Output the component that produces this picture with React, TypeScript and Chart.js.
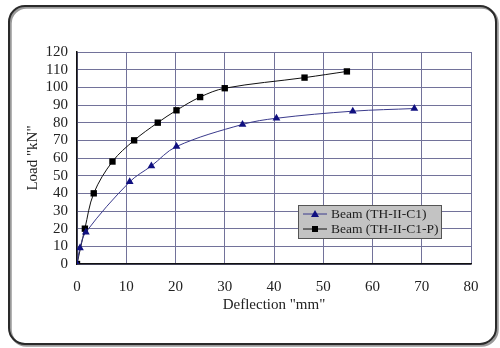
import React, { useEffect, useRef } from 'react';
import { Chart, registerables } from 'chart.js';

Chart.register(...registerables);

const seriesLabels = ['Beam (TH-II-C1)', 'Beam (TH-II-C1-P)'];
const c1Deflection = [0, 0.6, 1.8, 10.7, 15.1, 20.2, 33.6, 40.5, 56, 68.5];
const c1Load = [0, 9, 18, 46.5, 55.5, 66.5, 79, 82.5, 86.5, 88];
const pDeflection = [0, 1.6, 3.4, 7.2, 11.6, 16.4, 20.2, 25, 30, 46.2, 54.8];
const pLoad = [0, 20, 40, 58, 70, 80, 87, 94.5, 99.5, 105.5, 109];
const xTitle = 'Deflection "mm"';
const yTitle = 'Load "kN"';

const FONT = '"Liberation Serif", "Times New Roman", serif';

const toPoints = (xs: number[], ys: number[]) => xs.map((x, i) => ({ x, y: ys[i] }));

const framePlugin = {
  id: 'frame',
  beforeDraw(chart: any) {
    const { ctx, width, height } = chart;
    ctx.save();
    ctx.fillStyle = '#ffffff';
    ctx.fillRect(0, 0, width, height);
    const x = 9, y = 6, w = 487, h = 338, r = 16;
    ctx.beginPath();
    ctx.roundRect(x + 1.5, y + 1.5, w, h, r);
    ctx.strokeStyle = '#9a9a9a';
    ctx.lineWidth = 2.5;
    ctx.stroke();
    ctx.beginPath();
    ctx.roundRect(x, y, w, h, r);
    ctx.strokeStyle = '#2a2a2a';
    ctx.lineWidth = 2;
    ctx.stroke();
    ctx.restore();
  },
};

const legendPlugin = {
  id: 'boxLegend',
  afterDraw(chart: any) {
    const { ctx } = chart;
    const bx = 298, by = 205, bw = 143, bh = 33;
    ctx.save();
    ctx.fillStyle = '#c3c3c3';
    ctx.fillRect(bx, by, bw, bh);
    ctx.strokeStyle = '#555555';
    ctx.lineWidth = 1;
    ctx.strokeRect(bx + 0.5, by + 0.5, bw, bh);
    chart.data.datasets.forEach((ds: any, i: number) => {
      const cy = by + 9 + i * 15;
      ctx.strokeStyle = ds.borderColor;
      ctx.lineWidth = 1;
      ctx.beginPath();
      ctx.moveTo(303, cy);
      ctx.lineTo(327, cy);
      ctx.stroke();
      ctx.fillStyle = ds.pointBackgroundColor;
      ctx.beginPath();
      if (ds.pointStyle === 'triangle') {
        ctx.moveTo(315, cy - 4);
        ctx.lineTo(319, cy + 3);
        ctx.lineTo(311, cy + 3);
        ctx.closePath();
        ctx.fill();
      } else {
        ctx.fillRect(312, cy - 3, 6, 6);
      }
      ctx.fillStyle = '#1e1e1e';
      ctx.font = `13.5px ${FONT}`;
      ctx.textBaseline = 'middle';
      ctx.textAlign = 'left';
      ctx.fillText(ds.label, 331, cy + 0.5);
    });
    ctx.restore();
  },
};

export default function App() {
  const ref = useRef<HTMLCanvasElement | null>(null);

  useEffect(() => {
    if (!ref.current) return;
    const chart = new Chart(ref.current, {
      type: 'scatter',
      data: {
        datasets: [
          {
            label: seriesLabels[0],
            data: toPoints(c1Deflection, c1Load),
            showLine: true,
            borderColor: '#3a3a8c',
            borderWidth: 1,
            tension: 0.35,
            pointStyle: 'triangle',
            pointRadius: 4.5,
            pointBackgroundColor: '#101080',
            pointBorderColor: '#101080',
            pointBorderWidth: 0,
          },
          {
            label: seriesLabels[1],
            data: toPoints(pDeflection, pLoad),
            showLine: true,
            borderColor: '#111111',
            borderWidth: 1,
            tension: 0.35,
            pointStyle: 'rect',
            pointRadius: 4.5,
            pointBackgroundColor: '#000000',
            pointBorderColor: '#000000',
            pointBorderWidth: 0,
          },
        ],
      },
      options: {
        animation: false,
        responsive: false,
        layout: { padding: { left: 20, right: 29, top: 52, bottom: 30 } },
        plugins: {
          legend: { display: false },
          tooltip: { enabled: false },
        },
        scales: {
          x: {
            type: 'linear',
            min: 0,
            max: 80,
            afterFit: (s: any) => { s.height = 54; },
            ticks: {
              stepSize: 10,
              autoSkip: false,
              maxRotation: 0,
              padding: 14,
              color: '#222222',
              font: { family: FONT, size: 15 },
            },
            grid: { color: '#72729a', lineWidth: 1, drawTicks: false },
            border: { color: '#111111', width: 1.5 },
            title: {
              display: true,
              text: xTitle,
              color: '#222222',
              font: { family: FONT, size: 15 },
              padding: { top: 4, bottom: 4 },
            },
          },
          y: {
            type: 'linear',
            min: 0,
            max: 120,
            afterFit: (s: any) => { s.width = 57; },
            ticks: {
              stepSize: 10,
              autoSkip: false,
              padding: 9,
              color: '#222222',
              font: { family: FONT, size: 15 },
            },
            grid: { color: '#72729a', lineWidth: 1, drawTicks: false },
            border: { color: '#111111', width: 1.5 },
            title: {
              display: true,
              text: yTitle,
              color: '#222222',
              font: { family: FONT, size: 15 },
              padding: { top: 4, bottom: 4 },
            },
          },
        },
      },
      plugins: [framePlugin, legendPlugin],
    });
    return () => chart.destroy();
  }, []);

  return (
    <div style={{ position: 'fixed', left: 0, top: 0, width: 500, height: 348 }}>
      <canvas ref={ref} width={500} height={348} style={{ display: 'block' }} />
    </div>
  );
}
